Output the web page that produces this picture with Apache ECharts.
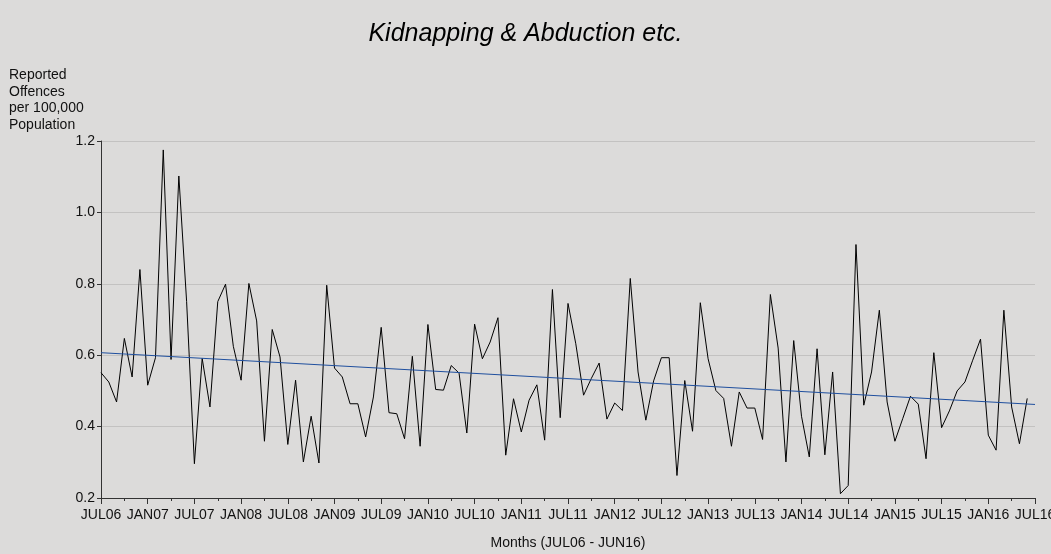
<!DOCTYPE html>
<html>
<head>
<meta charset="utf-8">
<script src="https://cdn.jsdelivr.net/npm/echarts@6/dist/echarts.min.js"></script>
<style>
  html, body { margin: 0; padding: 0; background: #dcdbda; }
  #chart { width: 1051px; height: 554px; }
</style>
</head>
<body>
<div id="chart"></div>
<script>
// half-year tick labels, JUL06 .. JUL16
const tickLabels = [
  'JUL06', 'JAN07', 'JUL07', 'JAN08', 'JUL08', 'JAN09', 'JUL09', 'JAN10', 'JUL10', 'JAN11', 'JUL11',
  'JAN12', 'JUL12', 'JAN13', 'JUL13', 'JAN14', 'JUL14', 'JAN15', 'JUL15', 'JAN16', 'JUL16'
];

// monthly rate, JUL06 .. JUN16 (120 months)
const offences = [
  0.551, 0.525, 0.469, 0.647, 0.539, 0.840, 0.516, 0.593, 1.175, 0.588, 1.102, 0.750,
  0.296, 0.591, 0.455, 0.750, 0.799, 0.625, 0.530, 0.801, 0.696, 0.359, 0.672, 0.595,
  0.350, 0.530, 0.301, 0.429, 0.298, 0.796, 0.564, 0.539, 0.464, 0.464, 0.371, 0.483,
  0.678, 0.439, 0.436, 0.366, 0.597, 0.345, 0.686, 0.504, 0.502, 0.571, 0.550, 0.382,
  0.687, 0.590, 0.637, 0.705, 0.320, 0.478, 0.385, 0.474, 0.517, 0.362, 0.784, 0.425,
  0.745, 0.632, 0.488, 0.535, 0.578, 0.421, 0.466, 0.445, 0.815, 0.553, 0.418, 0.528,
  0.593, 0.593, 0.263, 0.529, 0.387, 0.747, 0.590, 0.501, 0.479, 0.345, 0.497, 0.452,
  0.452, 0.364, 0.770, 0.620, 0.301, 0.641, 0.429, 0.315, 0.618, 0.321, 0.553, 0.212,
  0.235, 0.910, 0.460, 0.553, 0.726, 0.469, 0.359, 0.422, 0.485, 0.463, 0.310, 0.607,
  0.397, 0.444, 0.500, 0.525, 0.586, 0.645, 0.376, 0.334, 0.726, 0.455, 0.352, 0.479
];

// trend line end points (month index, value)
const trendStart = [0, 0.607];
const trendEnd = [120, 0.462];

const chart = echarts.init(document.getElementById('chart'));

const option = {
  backgroundColor: '#dcdbda',
  animation: false,
  title: {
    text: 'Kidnapping & Abduction etc.',
    left: 'center',
    top: 17,
    textStyle: {
      fontFamily: 'Liberation Sans',
      fontStyle: 'italic',
      fontWeight: 'normal',
      fontSize: 25,
      color: '#000'
    }
  },
  graphic: [
    {
      type: 'text',
      left: 9,
      top: 67,
      style: {
        text: 'Reported\nOffences\nper 100,000\nPopulation',
        font: '14px "Liberation Sans"',
        lineHeight: 16.5,
        fill: '#111'
      }
    }
  ],
  grid: {
    left: 101,
    right: 16,
    top: 141,
    bottom: 56,
    containLabel: false,
    outerBoundsMode: 'none'
  },
  xAxis: {
    type: 'value',
    min: 0,
    max: 120,
    interval: 6,
    name: 'Months (JUL06 - JUN16)',
    nameLocation: 'middle',
    nameGap: 38,
    nameTextStyle: { fontFamily: 'Liberation Sans', fontSize: 14, color: '#111' },
    axisLine: { lineStyle: { color: '#333', width: 1 } },
    axisTick: { length: 6, lineStyle: { color: '#333' } },
    minorTick: { show: true, splitNumber: 2, length: 3, lineStyle: { color: '#333' } },
    axisLabel: {
      margin: 10,
      fontFamily: 'Liberation Sans',
      fontSize: 14,
      color: '#111',
      showMaxLabel: true,
      formatter: function (v) { return tickLabels[Math.round(v / 6)] || ''; }
    },
    splitLine: { show: false }
  },
  yAxis: {
    type: 'value',
    min: 0.2,
    max: 1.2,
    interval: 0.2,
    axisLine: { show: true, lineStyle: { color: '#333', width: 1 } },
    axisTick: { show: true, length: 4, lineStyle: { color: '#333' } },
    axisLabel: {
      margin: 6,
      fontFamily: 'Liberation Sans',
      fontSize: 14,
      color: '#111',
      formatter: function (v) { return v.toFixed(1); }
    },
    splitLine: { show: true, lineStyle: { color: '#c3c2c1', width: 1 } }
  },
  series: [
    {
      name: 'Offences',
      type: 'line',
      data: offences.map((v, i) => [i, v]),
      showSymbol: false,
      symbol: 'none',
      lineStyle: { color: '#000', width: 1 },
      z: 3
    },
    {
      name: 'Trend',
      type: 'line',
      data: [trendStart, trendEnd],
      showSymbol: false,
      symbol: 'none',
      lineStyle: { color: '#1f4f9e', width: 1 },
      z: 4
    }
  ]
};

chart.setOption(option);
</script>
</body>
</html>
